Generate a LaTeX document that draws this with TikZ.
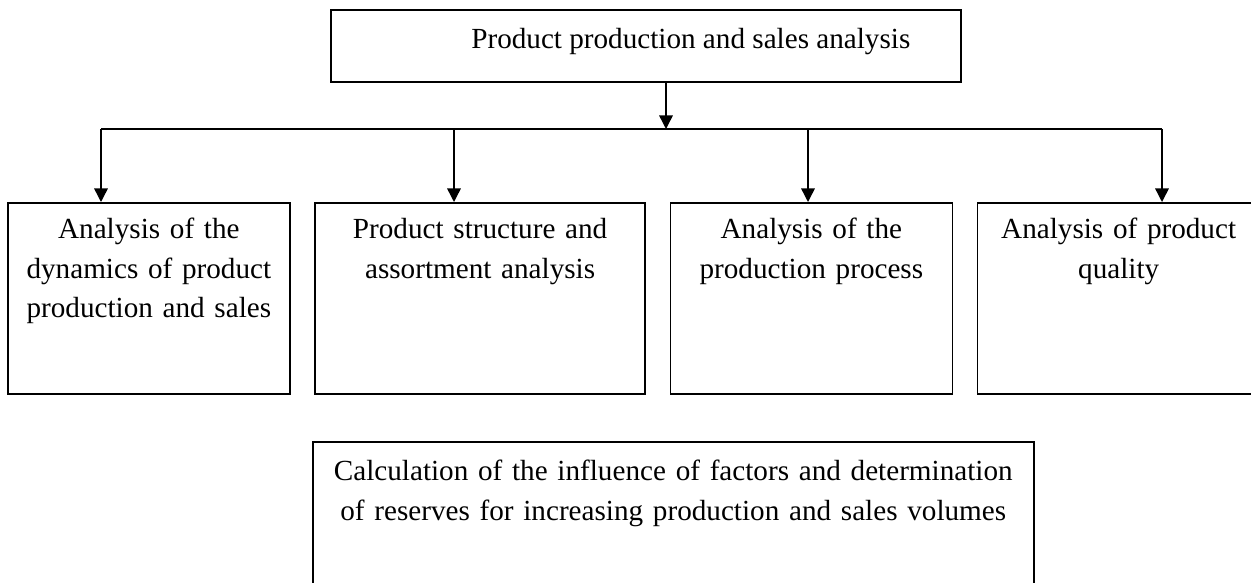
\documentclass[tikz,border=0pt]{standalone}
\usepackage{fontspec}
\setmainfont{Liberation Serif}
\usetikzlibrary{arrows.meta, positioning}

\begin{document}
\begin{tikzpicture}[
    x=0.48pt, y=-0.48pt,
    node distance=11.3pt,
    block/.style={rectangle, draw=black, line width=0.8pt, inner xsep=5pt, inner ysep=0pt,
                  align=center, font=\fontsize{14pt}{19pt}\selectfont},
    branch/.style={block, text width=125.4pt, text height=17.28pt, text depth=74.4pt},
    link/.style={line width=0.7pt, -{Triangle[length=6.5pt, width=6.5pt]}},
  ]
    \useasboundingbox (0,0) rectangle (1251,583);

    \node[block, anchor=north west, minimum width=302.4pt, text height=18.48pt, text depth=16.08pt]
      (top) at (330,9) {\hspace{43.2pt}Product production and sales analysis};

    \node[branch, anchor=north west] (b1) at (7,202) {Analysis of the\\dynamics of product\\production and sales};
    \node[branch, text width=148.4pt, right=of b1] (b2) {Product structure and\\assortment analysis};
    \node[branch, right=of b2] (b3) {Analysis of the\\production process};
    \node[branch, right=of b3] (b4) {Analysis of product\\quality};

    \node[block, anchor=north west, inner xsep=6pt, text width=334pt, text height=18.72pt, text depth=57.6pt]
      (calc) at (312,441) {Calculation of the influence of factors and determination\\of reserves for increasing production and sales volumes};

    \coordinate (hub) at (666,129);
    \coordinate (j1) at (101,129);
    \coordinate (j2) at (454,129);
    \coordinate (j3) at (808,129);
    \coordinate (j4) at (1162,129);

    \draw[link] (top.south -| hub) -- (hub);
    \draw[line width=0.7pt] (j1) -- (j4);
    \draw[link] (j1) -- (j1 |- b1.north);
    \draw[link] (j2) -- (j2 |- b2.north);
    \draw[link] (j3) -- (j3 |- b3.north);
    \draw[link] (j4) -- (j4 |- b4.north);
  \end{tikzpicture}
\end{document}
